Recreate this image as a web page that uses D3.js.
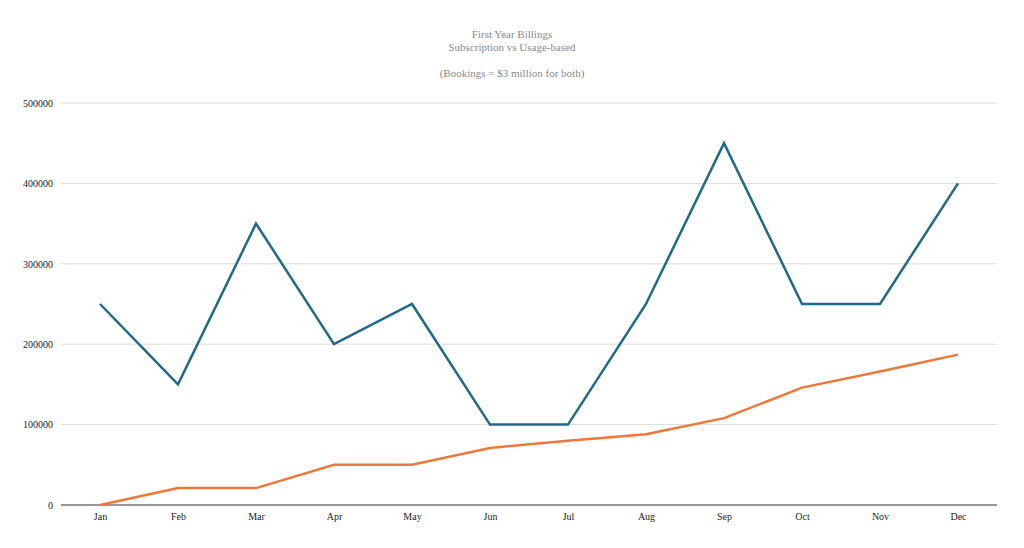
<!DOCTYPE html>
<html>
<head>
<meta charset="utf-8">
<script src="https://cdn.jsdelivr.net/npm/d3@7"></script>
<style>
  body { margin: 0; background: #fff; }
  svg { display: block; }
  text { font-family: "Liberation Serif", "DejaVu Serif", serif; }
</style>
</head>
<body>
<svg id="chart" width="1024" height="548"></svg>
<script>
const months = ["Jan", "Feb", "Mar", "Apr", "May", "Jun", "Jul", "Aug", "Sep", "Oct", "Nov", "Dec"];
const subscription = [250000, 150000, 350000, 200000, 250000, 100000, 100000, 250000, 450000, 250000, 250000, 400000];
const usage = [0, 21000, 21000, 50000, 50000, 71000, 80000, 88000, 108000, 146000, 166000, 187000];
const yTicks = [0, 100000, 200000, 300000, 400000, 500000];
const titleLines = ["First Year Billings", "Subscription vs Usage-based", "", "(Bookings = $3 million for both)"];

const MARGIN = { top: 103, right: 27, bottom: 43, left: 61 };
const svg = d3.select("#chart");
const width = +svg.attr("width") - MARGIN.left - MARGIN.right;
const height = +svg.attr("height") - MARGIN.top - MARGIN.bottom;

const g = svg.append("g")
  .attr("transform", "translate(" + MARGIN.left + "," + MARGIN.top + ")");

const x = d3.scalePoint().domain(months).range([0, width]).padding(0.5);
const y = d3.scaleLinear().domain([0, 500000]).range([height, 0]);

// title, centred on the page
svg.append("g").selectAll("text")
  .data(titleLines)
  .enter().append("text")
  .attr("x", +svg.attr("width") / 2)
  .attr("y", (d, i) => 38 + i * 13)
  .attr("text-anchor", "middle")
  .style("font-size", "11px")
  .style("fill", "#8a8a8a")
  .text(d => d);

// gridlines
g.append("g")
  .selectAll("line")
  .data(yTicks.filter(d => d > 0))
  .enter().append("line")
  .attr("x1", 0)
  .attr("x2", width)
  .attr("y1", d => y(d))
  .attr("y2", d => y(d))
  .style("stroke", "#dcdcdc")
  .style("stroke-width", 1);

// y axis
const yAxis = g.append("g")
  .attr("font-family", null)
  .call(d3.axisLeft(y).tickValues(yTicks).tickSize(0).tickPadding(8).tickFormat(d3.format("d")));
yAxis.attr("font-family", "'Liberation Serif', serif");
yAxis.select(".domain").remove();
yAxis.selectAll("text")
  .style("font-size", "10px")
  .style("fill", "#222");

// x axis
const xAxis = g.append("g")
  .attr("transform", "translate(0," + height + ")")
  .call(d3.axisBottom(x).tickSize(0).tickPadding(8));
xAxis.attr("font-family", "'Liberation Serif', serif");
xAxis.select(".domain")
  .attr("d", "M0,0H" + width)
  .style("stroke", "#333")
  .style("stroke-width", 1.2);
xAxis.selectAll("text")
  .style("font-size", "10px")
  .style("fill", "#222");

const line = d3.line()
  .x((d, i) => x(months[i]))
  .y(d => y(d));

g.append("path")
  .datum(subscription)
  .attr("d", line)
  .style("fill", "none")
  .style("stroke", "#1f6a8a")
  .style("stroke-width", 2.5)
  .style("stroke-linejoin", "miter");

g.append("path")
  .datum(usage)
  .attr("d", line)
  .style("fill", "none")
  .style("stroke", "#ef7739")
  .style("stroke-width", 2.5);
</script>
</body>
</html>
